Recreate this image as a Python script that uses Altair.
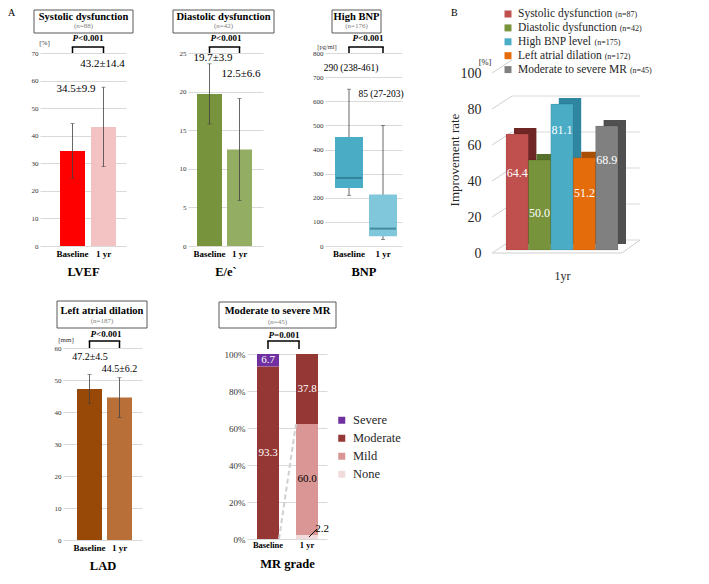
import altair as alt
import pandas as pd

FONT = "Liberation Serif"

# ---------------- data ----------------
groups = ["Baseline", "1 yr"]

lvef_mean = [34.5, 43.2]
lvef_sd = [9.9, 14.4]
lvef_text = ["34.5±9.9", "43.2±14.4"]

ee_mean = [19.7, 12.5]
ee_sd = [3.9, 6.6]
ee_text = ["19.7±3.9", "12.5±6.6"]

bnp_low = [210, 27]
bnp_q1 = [240, 40]
bnp_median = [282, 72]
bnp_q3 = [452, 213]
bnp_high = [650, 500]
bnp_text = ["290 (238-461)", "85 (27-203)"]

lad_mean = [47.2, 44.5]
lad_sd = [4.5, 6.2]
lad_text = ["47.2±4.5", "44.5±6.2"]

mr_grades = ["Severe", "Moderate", "Mild", "None"]
mr_baseline = [6.7, 93.3, 0.0, 0.0]
mr_1yr = [0.0, 37.8, 60.0, 2.2]

imp_names = ["Systolic dysfunction", "Diastolic dysfunction", "High BNP level",
             "Left atrial dilation", "Moderate to severe MR"]
imp_n = [87, 42, 175, 172, 45]
imp_rate = [64.4, 50.0, 81.1, 51.2, 68.9]
imp_ticks = [0, 20, 40, 60, 80, 100]

panel_titles = ["Systolic dysfunction", "Diastolic dysfunction", "High BNP",
                "Left atrial dilation", "Moderate to severe MR"]
panel_n = [88, 42, 176, 187, 45]
p_texts = ["<0.001", "<0.001", "<0.001", "<0.001", "=0.001"]

# ---------------- styles ----------------
LVEF_COLORS = ["#ff0000", "#f3c3c3"]
EE_COLORS = ["#77933c", "#93ad63"]
BNP_COLORS = ["#4bacc6", "#80c7db"]
LAD_COLORS = ["#984807", "#b96f38"]
MR_COLORS = ["#7030a0", "#953735", "#d99694", "#f2dcdb"]
IMP_FRONT = ["#c0504d", "#77933c", "#4bacc6", "#e46c0a", "#808080"]
IMP_DEPTH = ["#6f2725", "#55702a", "#2f86a0", "#a84f06", "#505050"]
GRID = "#d9d9d9"
ERR = "#404040"

TIMES = {' ': 250, '(': 333, ')': 333, '=': 564, '-': 333, '.': 250,
         'A': 722, 'B': 667, 'D': 722, 'H': 722, 'L': 611, 'M': 889, 'N': 722,
         'P': 556, 'R': 667, 'S': 556,
         'a': 444, 'b': 500, 'c': 444, 'd': 500, 'e': 444, 'f': 333, 'g': 500,
         'h': 500, 'i': 278, 'l': 278, 'm': 778, 'n': 500, 'o': 500, 'r': 333,
         's': 389, 't': 278, 'u': 500, 'v': 500, 'y': 500}
BOLD = {'<': 570, '=': 570, '.': 250}


def tw(s, size, table=TIMES):
    return sum(table.get(c, 500) for c in s) * size / 1000.0


def one(**kw):
    return pd.DataFrame({k: [v] for k, v in kw.items()})


def txt(text, x, y, size, weight="normal", color="#000000", align="center",
        baseline="middle", style="normal", angle=0):
    return alt.Chart(one(t=text)).mark_text(
        font=FONT, fontSize=size, fontWeight=weight, color=color, align=align,
        baseline=baseline, fontStyle=style, angle=angle
    ).encode(x=alt.value(x), y=alt.value(y), text="t:N")


def band(r0, r1, b0, b1, c0, domain):
    s = c0 - b0
    p = 1 - (b1 - b0) / s
    W = r1 - r0
    o = max((W / s - 2 + p) / 2, 0)
    span = s * (2 - p)
    a = (b0 - r0) / (W - span) if W - span > 0.5 else 0.5
    a = min(max(a, 0), 1)
    return alt.Scale(domain=domain, range=[r0, r1], paddingInner=p,
                     paddingOuter=o, align=a)


def xaxis(title, H, y0, lab_size=9, lab_pad=3, title_pad=7):
    return alt.Axis(orient="bottom", offset=-(H - y0), domain=False, ticks=False,
                    grid=False, labelAngle=0, labelFont=FONT, labelFontSize=lab_size,
                    labelFontWeight="bold", labelColor="#000000", labelPadding=lab_pad,
                    title=title, titleFont=FONT, titleFontSize=12.5,
                    titleFontWeight="bold", titleColor="#000000", titlePadding=title_pad)


def yaxis(values, gx0, size=7, expr=None):
    kw = dict(values=values, offset=-gx0, domain=False, ticks=False, grid=True,
              gridColor=GRID, gridWidth=1, labelFont=FONT, labelFontSize=size,
              labelColor="#333333", labelPadding=2, title=None)
    if expr:
        kw["labelExpr"] = expr
    return alt.Axis(**kw)


def title_box(k, x0, x1, y0, y1, ty, ny):
    cx = (x0 + x1) / 2.0
    rect = alt.Chart(one(t=panel_titles[k])).mark_rect(
        fillOpacity=0, stroke="#595959", strokeWidth=1
    ).encode(x=alt.value(x0), x2=alt.value(x1), y=alt.value(y0), y2=alt.value(y1))
    return [rect,
            txt(panel_titles[k], cx, ty, 10.5, "bold"),
            txt("(n=%d)" % panel_n[k], cx, ny, 7, color="#808080")]


def pval(k, cx, y, size=9):
    op = p_texts[k]
    wP = 0.611 * size
    wR = tw(op, size, BOLD)
    xs = cx - (wP + wR) / 2.0 + wP
    return [txt("P", xs, y, size, "bold", align="right", style="italic"),
            txt(op, xs, y, size, "bold", align="left")]


def bracket(xenc, top, bottom, off1=0, off2=0):
    h = alt.Chart(one(g=groups[0], g2=groups[1])).mark_rule(
        color="black", strokeWidth=1.5, xOffset=off1, x2Offset=off2, strokeCap="square"
    ).encode(x=xenc, x2=alt.X2("g2"), y=alt.value(top))
    v1 = alt.Chart(one(g=groups[0])).mark_rule(
        color="black", strokeWidth=1.5, xOffset=off1
    ).encode(x=xenc, y=alt.value(top), y2=alt.value(bottom))
    v2 = alt.Chart(one(g=groups[1])).mark_rule(
        color="black", strokeWidth=1.5, xOffset=off2
    ).encode(x=xenc, y=alt.value(top), y2=alt.value(bottom))
    return [h, v1, v2]


def msd_panel(k, mean, sd, texts, colors, ymax, ystep, xtitle, W, H, gx, bars,
              yr, box, p_xy, br, text_dx, text_y, text_size, unit=None, letter=None):
    df = pd.DataFrame({"g": groups, "mean": mean, "sd": sd, "lab": texts, "col": colors})
    df["lo"] = df["mean"] - df["sd"]
    df["hi"] = df["mean"] + df["sd"]
    xs = band(gx[0], gx[1], bars[0], bars[1], bars[2], groups)
    ys = alt.Scale(domain=[0, ymax], range=[yr[0], yr[1]], nice=False, zero=True)
    xax = xaxis(xtitle, H, yr[0])
    yax = yaxis(list(range(0, ymax + 1, ystep)), gx[0])
    xenc = alt.X("g:N", scale=xs, axis=xax, sort=groups)
    layers = [
        alt.Chart(df).mark_bar().encode(x=xenc, y=alt.Y("mean:Q", scale=ys, axis=yax),
                                        color=alt.Color("col:N", scale=None)),
        alt.Chart(df).mark_rule(color=ERR, strokeWidth=0.8).encode(
            x=xenc, y=alt.Y("lo:Q", scale=ys, axis=yax), y2=alt.Y2("hi")),
        alt.Chart(df).mark_tick(color=ERR, thickness=0.8, size=4).encode(
            x=xenc, y=alt.Y("lo:Q", scale=ys, axis=yax)),
        alt.Chart(df).mark_tick(color=ERR, thickness=0.8, size=4).encode(
            x=xenc, y=alt.Y("hi:Q", scale=ys, axis=yax)),
    ]
    for i in range(2):
        layers.append(alt.Chart(df.iloc[[i]]).mark_text(
            font=FONT, fontSize=text_size, color="#000000", dx=text_dx[i]
        ).encode(x=xenc, y=alt.value(text_y[i]), text="lab:N"))
    layers += title_box(k, *box)
    layers += pval(k, *p_xy)
    layers += bracket(xenc, br[0], br[1])
    if unit:
        layers.append(txt(unit[0], unit[1], unit[2], 7, color="#333333"))
    if letter:
        layers.append(txt(letter, 0, 0, 10, align="left", baseline="top"))
    return alt.layer(*layers).properties(width=W, height=H)


H1 = 282
H2 = 282

# ---------- LVEF ----------
lvef = msd_panel(0, lvef_mean, lvef_sd, lvef_text, LVEF_COLORS, 70, 10, "LVEF",
                 152, H1, (32, 118), (52, 77, 83), (238, 45),
                 (26, 125, 2, 25, 9, 17.5), (80, 30), (39, 45),
                 (3.5, -1), (81, 56), 11, unit=("[%]", 36.5, 35), letter="A")

# ---------- E/e' ----------
ee = msd_panel(1, ee_mean, ee_sd, ee_text, EE_COLORS, 25, 5, "E/e`",
               135, H1, (28, 103), (37, 62, 67), (238, 45),
               (13, 114, 2, 25, 9, 17.5), (66, 30), (39, 45),
               (3.5, 1.5), (50, 66), 11)

# ---------- BNP ----------
bnp_df = pd.DataFrame({"g": groups, "low": bnp_low, "q1": bnp_q1, "med": bnp_median,
                       "q3": bnp_q3, "high": bnp_high, "lab": bnp_text, "col": BNP_COLORS})
bxs = band(30, 107, 40, 68, 74, groups)
bys = alt.Scale(domain=[0, 800], range=[238, 45], nice=False)
bxax = xaxis("BNP", H1, 238)
byax = yaxis(list(range(0, 801, 100)), 30)
bxenc = alt.X("g:N", scale=bxs, axis=bxax, sort=groups)
bnp_layers = [
    alt.Chart(bnp_df).mark_rule(color=ERR, strokeWidth=0.8).encode(
        x=bxenc, y=alt.Y("low:Q", scale=bys, axis=byax), y2=alt.Y2("high")),
    alt.Chart(bnp_df).mark_tick(color=ERR, thickness=0.8, size=4).encode(
        x=bxenc, y=alt.Y("low:Q", scale=bys, axis=byax)),
    alt.Chart(bnp_df).mark_tick(color=ERR, thickness=0.8, size=4).encode(
        x=bxenc, y=alt.Y("high:Q", scale=bys, axis=byax)),
    alt.Chart(bnp_df).mark_bar().encode(
        x=bxenc, y=alt.Y("q1:Q", scale=bys, axis=byax), y2=alt.Y2("q3"),
        color=alt.Color("col:N", scale=None)),
    alt.Chart(bnp_df).mark_tick(color="#2a7489", thickness=2, size=26).encode(
        x=bxenc, y=alt.Y("med:Q", scale=bys, axis=byax)),
]
for i, (dx, py) in enumerate([(2, 60), (-2, 86)]):
    bnp_layers.append(alt.Chart(bnp_df.iloc[[i]]).mark_text(
        font=FONT, fontSize=9.5, color="#000000", dx=dx
    ).encode(x=bxenc, y=alt.value(py), text="lab:N"))
bnp_layers += title_box(2, 37, 86, 2, 25, 9, 17.5)
bnp_layers += pval(2, 73, 30)
bnp_layers += bracket(bxenc, 39, 45)
bnp_layers.append(txt("[pg/ml]", 32, 39, 6.5, color="#333333"))
bnp = alt.layer(*bnp_layers).properties(width=135, height=H1)

# ---------- B : improvement rate (3-D style bars) ----------
imp_df = pd.DataFrame({"name": imp_names, "rate": imp_rate, "n": imp_n,
                       "front": IMP_FRONT, "depth": IMP_DEPTH})
tick_df = pd.DataFrame({"v": imp_ticks})
wall_df = tick_df[tick_df["v"] < 100]
floor_df = tick_df[tick_df["v"] == 0]
ixs = alt.Scale(domain=imp_names, range=[76, 188], paddingInner=0, paddingOuter=0)
iys = alt.Scale(domain=[0, 100], range=[245, 65], nice=False)
iyax = alt.Axis(values=imp_ticks, offset=-53, domain=False, ticks=False, grid=False,
                labelFont=FONT, labelFontSize=14, labelColor="#262626", labelPadding=2,
                title=None)
ixax = alt.Axis(orient="bottom", offset=-(H1 - 245), labels=False, ticks=False,
                domain=False, grid=False, title="1yr", titleFont=FONT, titleFontSize=12,
                titleFontWeight="normal", titleColor="#262626", titlePadding=17)
ixenc = alt.X("name:N", scale=ixs, axis=ixax, sort=imp_names)
DEPTH_X = 8
WALL_DY = -13
b_layers = [
    alt.Chart(wall_df).mark_rule(color=GRID, strokeWidth=1, yOffset=WALL_DY).encode(
        x=alt.value(82), x2=alt.value(210), y=alt.Y("v:Q", scale=iys, axis=iyax)),
    alt.Chart(tick_df).mark_rule(color="#cfcfcf", strokeWidth=1, y2Offset=WALL_DY).encode(
        x=alt.value(62), x2=alt.value(82), y=alt.Y("v:Q", scale=iys, axis=iyax), y2=alt.Y2("v")),
    alt.Chart(floor_df).mark_rule(color="#cfcfcf", strokeWidth=1).encode(
        x=alt.value(62), x2=alt.value(192), y=alt.Y("v:Q", scale=iys, axis=iyax)),
    alt.Chart(floor_df).mark_rule(color="#cfcfcf", strokeWidth=1, y2Offset=WALL_DY).encode(
        x=alt.value(192), x2=alt.value(210), y=alt.Y("v:Q", scale=iys, axis=iyax), y2=alt.Y2("v")),
    alt.Chart(imp_df).mark_bar(xOffset=DEPTH_X, yOffset=-9, y2Offset=-9).encode(
        x=ixenc, y=alt.Y("rate:Q", scale=iys, axis=iyax), color=alt.Color("depth:N", scale=None)),
    alt.Chart(imp_df).mark_bar(yOffset=-3, y2Offset=-3, stroke="#00000033", strokeWidth=0.5).encode(
        x=ixenc, y=alt.Y("rate:Q", scale=iys, axis=iyax), color=alt.Color("front:N", scale=None)),
]
imp_label_y = [165, 205, 122, 185, 152]
for i in range(len(imp_names)):
    b_layers.append(alt.Chart(imp_df.iloc[[i]]).mark_text(
        font=FONT, fontSize=12, color="#ffffff"
    ).encode(x=ixenc, y=alt.value(imp_label_y[i]), text=alt.Text("rate:Q", format=".1f")))
for i in range(len(imp_names)):
    yy = 6 + i * 13.9
    b_layers.append(alt.Chart(imp_df.iloc[[i]]).mark_square(size=49, opacity=1).encode(
        x=alt.value(78), y=alt.value(yy), color=alt.Color("front:N", scale=None)))
    b_layers.append(txt(imp_names[i], 88, yy, 11.5, color="#262626", align="left"))
    b_layers.append(txt("(n=%d)" % imp_n[i], 88 + tw(imp_names[i], 11.5) + 3, yy + 1, 8,
                        color="#262626", align="left"))
b_layers.append(txt("[%]", 55, 54, 8.5, color="#262626"))
b_layers.append(txt("Improvement rate", 25, 152, 13, color="#262626", angle=270))
b_layers.append(txt("B", 21, 0, 10, align="left", baseline="top"))
bpanel = alt.layer(*b_layers).properties(width=271, height=H1)

# ---------- LAD ----------
lad = msd_panel(3, lad_mean, lad_sd, lad_text, LAD_COLORS, 60, 10, "LAD",
                192, H2, (55, 134), (69, 94, 99), (250, 58),
                (49, 139, 11, 38, 21, 31), (98, 44), (51, 58),
                (0.5, 0), (67, 78.7), 10, unit=("[mm]", 58, 50))

# ---------- MR grade ----------
rows = []
for g, vals in zip(groups, [mr_baseline, mr_1yr]):
    base = 0.0
    for grade in reversed(mr_grades):
        v = vals[mr_grades.index(grade)]
        rows.append({"g": g, "grade": grade, "value": v, "y0": base, "y1": base + v,
                     "mid": base + v / 2.0, "lab": "%.1f" % v})
        base += v
mr_df = pd.DataFrame(rows)
mr_pos = mr_df[mr_df["value"] > 0]
mxs = band(47, 127, 57, 79, 96, groups)
mys = alt.Scale(domain=[0, 100], range=[249, 64], nice=False)
mxax = xaxis("MR grade", H2, 249, lab_size=8.5, lab_pad=1, title_pad=9)
myax = yaxis([0, 20, 40, 60, 80, 100], 47, size=9, expr="datum.value + '%'")
mxenc = alt.X("g:N", scale=mxs, axis=mxax, sort=groups)
mr_legend = alt.Legend(orient="none", legendX=135.5, legendY=124, title=None,
                       symbolType="square", symbolSize=49, symbolStrokeWidth=0,
                       labelFont=FONT, labelFontSize=12.5, labelColor="#262626",
                       rowPadding=5, padding=0, labelOffset=5)
one_yr = mr_df[mr_df["g"] == groups[1]]
conn = one(g=groups[0], g2=groups[1], ya=0.0,
           yb=float(one_yr[one_yr["grade"].isin(["Mild", "None"])]["value"].sum()))
none_lab = mr_df[(mr_df["grade"] == "None") & (mr_df["value"] > 0)].copy()
none_lab["g2"] = none_lab["g"]
mr_layers = [
    alt.Chart(mr_pos).mark_bar().encode(
        x=mxenc, y=alt.Y("y1:Q", scale=mys, axis=myax), y2=alt.Y2("y0"),
        color=alt.Color("grade:N", scale=alt.Scale(domain=mr_grades, range=MR_COLORS),
                        legend=mr_legend)),
    alt.Chart(conn).mark_rule(color="#d0d0d0", strokeWidth=2, strokeDash=[5, 3],
                              xOffset=11, x2Offset=-11).encode(
        x=mxenc, x2=alt.X2("g2"), y=alt.Y("ya:Q", scale=mys, axis=myax), y2=alt.Y2("yb")),
    alt.Chart(mr_pos[mr_pos["grade"].isin(["Severe", "Moderate"])]).mark_text(
        font=FONT, fontSize=11, color="#ffffff").encode(
        x=mxenc, y=alt.Y("mid:Q", scale=mys, axis=myax), text="lab:N"),
    alt.Chart(mr_pos[mr_pos["grade"] == "Mild"]).mark_text(
        font=FONT, fontSize=11, color="#000000").encode(
        x=mxenc, y=alt.Y("mid:Q", scale=mys, axis=myax), text="lab:N"),
    alt.Chart(none_lab).mark_rule(color="#000000", strokeWidth=1, xOffset=2, x2Offset=10,
                                  y2Offset=-8).encode(
        x=mxenc, x2=alt.X2("g2"), y=alt.Y("mid:Q", scale=mys, axis=myax), y2=alt.Y2("mid")),
    alt.Chart(none_lab).mark_text(font=FONT, fontSize=11, color="#000000", dx=15, dy=-8).encode(
        x=mxenc, y=alt.Y("mid:Q", scale=mys, axis=myax), text="lab:N"),
]
mr_layers += title_box(4, 19, 136, 12, 38, 21, 31.5)
mr_layers += pval(4, 84, 45)
mr_layers += bracket(mxenc, 51, 59, 0, -8)
mr = alt.layer(*mr_layers).properties(width=501, height=H2)

row1 = alt.hconcat(lvef, ee, bnp, bpanel, spacing=0, bounds="flush")
row2 = alt.hconcat(lad, mr, spacing=0, bounds="flush").resolve_scale(
    color="independent").resolve_legend(color="independent")
chart = alt.vconcat(row1, row2, spacing=0).resolve_scale(
    color="independent").resolve_legend(color="independent").properties(
    padding=0).configure_view(strokeWidth=0).configure_axis(
    labelFont=FONT, titleFont=FONT).configure_legend(labelFont=FONT, titleFont=FONT)

chart.save("out.html", embed_options={"renderer": "svg", "actions": False})
